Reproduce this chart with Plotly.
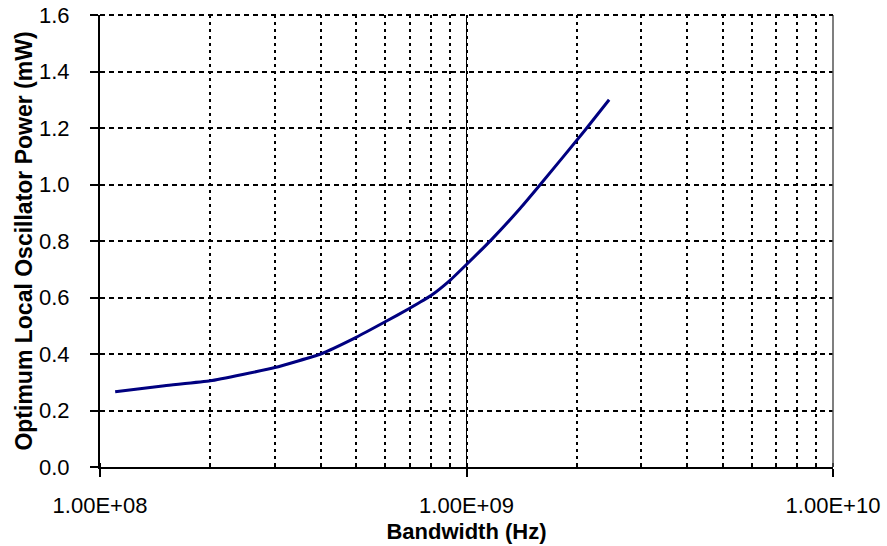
import plotly.graph_objects as go

bandwidth_hz = [1.1e8, 1.5e8, 2e8, 3e8, 4e8, 5e8, 6e8, 7e8, 8e8, 9e8, 1e9, 1.17e9, 1.4e9, 1.59e9, 2.1e9, 2.45e9]
lo_power_mw = [0.266, 0.288, 0.305, 0.352, 0.400, 0.459, 0.514, 0.562, 0.607, 0.660, 0.717, 0.805, 0.915, 1.000, 1.190, 1.300]

x_tickvals = [1e8, 1e9, 1e10]
x_ticktext = ["1.00E+08", "1.00E+09", "1.00E+10"]

font_family = "Liberation Sans, Arial, sans-serif"

fig = go.Figure()
fig.add_trace(go.Scatter(
    x=bandwidth_hz, y=lo_power_mw, mode="lines",
    line=dict(color="#000080", width=3, shape="spline", smoothing=0.4),
    showlegend=False,
))

fig.update_layout(
    width=887, height=546,
    margin=dict(l=100, r=54, t=15, b=79),
    plot_bgcolor="white", paper_bgcolor="white",
    font=dict(family=font_family, size=22, color="black"),
)

fig.update_xaxes(
    type="log", range=[8, 10], automargin=False,
    tickvals=x_tickvals, ticktext=x_ticktext,
    showgrid=True, gridcolor="black", gridwidth=1,
    showline=True, linecolor="black", linewidth=2,
    ticks="outside", ticklen=8, tickcolor="black", tickwidth=1.5,
    ticklabelstandoff=10, ticklabeloverflow="allow",
    minor=dict(dtick="D1", showgrid=True, gridcolor="black", gridwidth=2,
               griddash="3px,4px", ticks="inside", ticklen=4, tickcolor="black"),
    title=dict(text="<b>Bandwidth (Hz)</b>", font=dict(size=22), standoff=6),
    tickfont=dict(size=22),
    zeroline=False,
)

fig.update_yaxes(
    range=[0, 1.6], dtick=0.2, tickformat=".1f", automargin=False,
    showgrid=True, gridcolor="black", gridwidth=2, griddash="5px,4px",
    showline=True, linecolor="black", linewidth=2,
    ticks="outside", ticklen=8, tickcolor="black", tickwidth=1.5,
    ticklabelstandoff=16, ticklabeloverflow="allow",
    title=dict(text="<b>Optimum Local Oscillator Power (mW)</b>", font=dict(size=23), standoff=0),
    tickfont=dict(size=22),
    zeroline=False,
)

fig.add_shape(type="line", xref="paper", yref="paper", x0=1, x1=1, y0=0, y1=1,
              line=dict(color="#555555", width=1.5))
fig.add_shape(type="line", xref="paper", yref="paper", x0=0, x1=1, y0=1, y1=1,
              line=dict(color="black", width=2, dash="5px,4px"))

# remove the browser's default 8px body margin so the figure sits at the page corner
fig.write_html("out.html", config={"displayModeBar": False},
               post_script="document.body.style.margin='0px';")
